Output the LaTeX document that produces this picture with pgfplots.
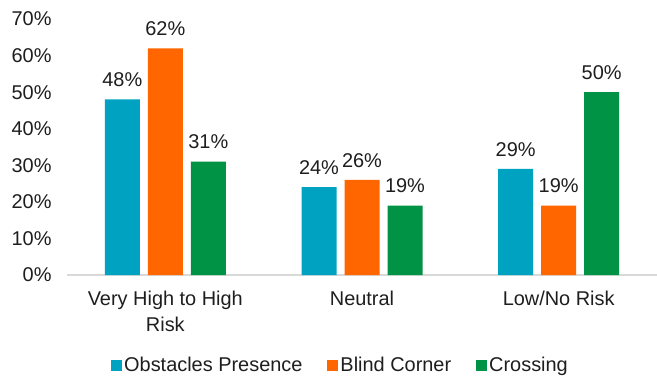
\documentclass[border=0pt]{standalone}
\usepackage{pgfplots}
\pgfplotsset{compat=1.18}
\usepackage{fontspec}
\setmainfont{Liberation Sans}
\definecolor{obsblue}{RGB}{0,162,193}
\definecolor{cornerorange}{RGB}{255,102,0}
\definecolor{crossgreen}{RGB}{0,146,69}
\definecolor{axisgray}{RGB}{217,217,217}
\definecolor{txt}{RGB}{30,30,30}
\newcommand{\chartfont}{\fontsize{20}{24}\selectfont}
\begin{document}
\begin{tikzpicture}
\begin{axis}[
  scale only axis,
  width=590bp, height=256bp,
  ybar=8bp, bar width=35bp,
  xmin=-0.5, xmax=2.5,
  ymin=0, ymax=70,
  xtick=data,
  xticklabels={{Very High to High\\[2bp]Risk},{Neutral},{Low/No Risk}},
  xticklabel style={align=center, font=\chartfont, text=txt, yshift=-13bp},
  ytick={0,10,...,70},
  yticklabel={\pgfmathprintnumber{\tick}\%},
  yticklabel style={font=\chartfont, text=txt, xshift=-12bp},
  /pgf/number format/assume math mode=true,
  major tick length=0pt,
  axis x line*=bottom,
  axis y line*=left,
  y axis line style={draw=none},
  x axis line style={draw=axisgray, line width=1.5bp, -},
  clip=false,
  nodes near coords={\pgfmathprintnumber{\pgfplotspointmeta}\%},
  nodes near coords style={font=\chartfont, text=txt, yshift=9bp},
  legend style={draw=none, font=\chartfont, text=txt, at={(0.4636,-0.352)}, anchor=center,
    legend columns=3, /tikz/every even column/.append style={column sep=23bp}},
  legend image code/.code={\fill[#1,draw=none] (0bp,-5.5bp) rectangle (11bp,5.5bp);},
]
\addplot[fill=obsblue, draw=none] coordinates {(0,48) (1,24) (2,29)};
\addplot[fill=cornerorange, draw=none] coordinates {(0,62) (1,26) (2,19)};
\addplot[fill=crossgreen, draw=none] coordinates {(0,31) (1,19) (2,50)};
\legend{Obstacles Presence, Blind Corner, Crossing}
\coordinate (plotSW) at (rel axis cs:0,0);
\coordinate (plotNE) at (rel axis cs:1,1);
\end{axis}
% fixed page frame around the plot area
\pgfresetboundingbox
\path ([xshift=-67bp,yshift=-102bp]plotSW) rectangle ([yshift=19bp]plotNE);
\end{tikzpicture}
\end{document}
